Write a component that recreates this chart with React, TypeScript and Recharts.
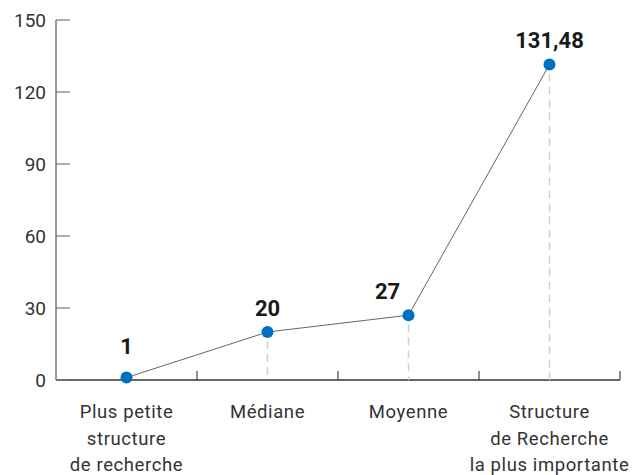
import { LineChart, Line, XAxis, YAxis, LabelList } from 'recharts';

const CATEGORIES: string[][] = [
  ['Plus petite', 'structure', 'de recherche'],
  ['Médiane'],
  ['Moyenne'],
  ['Structure', 'de Recherche', 'la plus importante'],
];
const VALUES = [1, 20, 27, 131.48];
const Y_TICKS = [0, 30, 60, 90, 120, 150];
const X_TICKS = [0.5, 1, 1.5, 2, 2.5, 3, 3.5, 4];

const WIDTH = 632;
const HEIGHT = 467;
const MARGIN = { top: 12, right: 20, bottom: 5, left: 0 };
const Y_AXIS_WIDTH = 48;
const X_AXIS_HEIGHT = 90;
const AXIS_X = MARGIN.left + Y_AXIS_WIDTH;
const PLOT_BOTTOM = HEIGHT - MARGIN.bottom - X_AXIS_HEIGHT;

const FONT = 'Roboto, "Noto Sans", sans-serif';

const rows = VALUES.map((value, i) => ({ pos: i + 0.5, value }));

function YTick(props: any) {
  const { y, payload } = props;
  return (
    <g>
      <line x1={AXIS_X} x2={AXIS_X + 14} y1={y} y2={y} stroke="#777" strokeWidth={1.2} />
      <text x={AXIS_X - 10} y={y} dy={7} textAnchor="end" fontSize={19} fill="#333" fontFamily={FONT}>
        {payload.value}
      </text>
    </g>
  );
}

function XTick(props: any) {
  const { x, payload } = props;
  const v = payload.value as number;
  if (Number.isInteger(v)) {
    return <line x1={x} x2={x} y1={PLOT_BOTTOM} y2={PLOT_BOTTOM - 9} stroke="#444" strokeWidth={1.2} />;
  }
  const lines = CATEGORIES[Math.floor(v)] ?? [];
  return (
    <text textAnchor="middle" fontSize={18.5} letterSpacing={0.6} fill="#333" fontFamily={FONT}>
      {lines.map((l, i) => (
        <tspan key={i} x={x} y={PLOT_BOTTOM + 38 + i * 26.5}>
          {l}
        </tspan>
      ))}
    </text>
  );
}

function Dot(props: any) {
  const { cx, cy, index } = props;
  const top = cy + 9;
  return (
    <g key={`dot-${index}`}>
      {PLOT_BOTTOM - top > 2 && (
        <line x1={cx} x2={cx} y1={top} y2={PLOT_BOTTOM} stroke="#d0d0d0" strokeWidth={1.5} strokeDasharray="8 5" />
      )}
      <circle cx={cx} cy={cy} r={6} fill="#0070c0" />
    </g>
  );
}

function ValueLabel(props: any) {
  const { x, y, value, index } = props;
  const dx = index === 2 ? -21 : 0;
  const dy = index === 0 ? 24 : 16;
  return (
    <text x={x + dx} y={y - dy} textAnchor="middle" fontSize={22} fontWeight={700} fill="#1a1a1a" fontFamily={FONT}>
      {String(value).replace('.', ',')}
    </text>
  );
}

export default function App() {
  return (
    <div style={{ width: WIDTH, height: HEIGHT, background: '#fff' }}>
      <LineChart width={WIDTH} height={HEIGHT} data={rows} margin={MARGIN}>
        <XAxis
          dataKey="pos"
          type="number"
          domain={[0, 4]}
          ticks={X_TICKS}
          interval={0}
          height={X_AXIS_HEIGHT}
          axisLine={{ stroke: '#333', strokeWidth: 1.5 }}
          tickLine={false}
          tick={XTick}
        />
        <YAxis
          type="number"
          domain={[0, 150]}
          ticks={Y_TICKS}
          interval={0}
          width={Y_AXIS_WIDTH}
          axisLine={{ stroke: '#777', strokeWidth: 1.5 }}
          tickLine={false}
          tick={YTick}
        />
        <Line
          dataKey="value"
          stroke="#666"
          strokeWidth={1}
          isAnimationActive={false}
          dot={Dot}
          activeDot={false}
        >
          <LabelList dataKey="value" content={ValueLabel} />
        </Line>
      </LineChart>
    </div>
  );
}
